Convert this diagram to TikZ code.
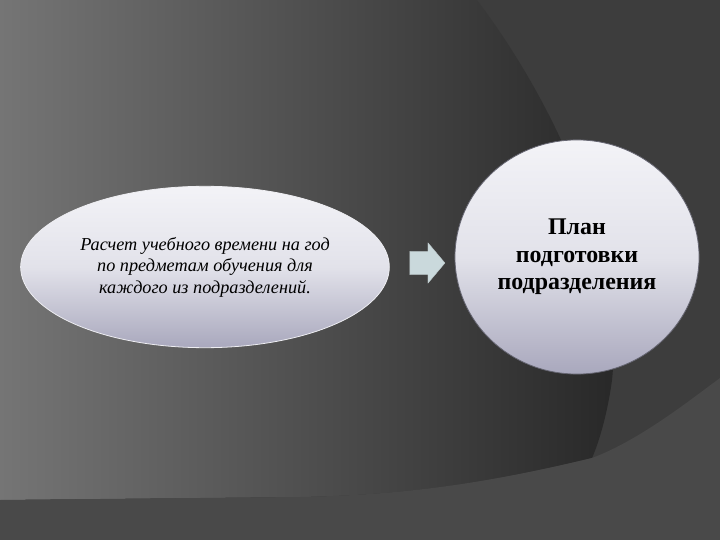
\documentclass[tikz,border=0pt]{standalone}
\usepackage{fontspec}
\setmainfont{Liberation Serif}
\usetikzlibrary{shapes.arrows,shapes.geometric}

\definecolor{slate}{HTML}{3D3D3D}
\definecolor{fogleft}{HTML}{757575}
\definecolor{coal}{HTML}{272727}
\definecolor{bandgray}{HTML}{494949}
\definecolor{bubtop}{HTML}{F3F3F7}
\definecolor{bubmid}{HTML}{E2E2EA}
\definecolor{bubbot}{HTML}{A9A8BD}
\definecolor{arrowfill}{HTML}{CAD9DC}

\tikzset{
  bubble/.style={ellipse, draw=white!80!bubbot, line width=0.8pt,
    top color=bubtop, bottom color=bubbot, middle color=bubmid,
    inner sep=0pt, align=center},
  stepping/.style={single arrow, fill=arrowfill, draw=arrowfill!80!gray,
    single arrow head extend=8.5bp, minimum height=35bp,
    inner sep=0pt, single arrow tip angle=100}
}

\begin{document}
\begin{tikzpicture}[x=1bp, y=-1bp]

\useasboundingbox (0,0) rectangle (720,540);
\fill[slate] (0,0) rectangle (720,540);
\shade[left color=fogleft, right color=coal]
  (0,0) -- (477,0) .. controls (560,110) and (625,260) .. (612,380)
  .. controls (608,410) and (600,440) .. (592,458)
  .. controls (480,485) and (400,495) .. (300,497) -- (0,500) -- cycle;
\fill[bandgray]
  (0,500) -- (300,497) .. controls (400,495) and (480,485) .. (592,458)
  .. controls (640,440) and (690,400) .. (720,378) -- (720,540) -- (0,540) -- cycle;

% -------- bubbles -----------
\node[bubble, minimum width=370, minimum height=162,
  font=\itshape\fontsize{18.3}{21.5}\selectfont] (calc) at (205,267)
  {Расчет учебного времени на год\\по предметам обучения для\\каждого из подразделений.};
\node[bubble, draw=bubbot!60!black, minimum width=245, minimum height=235,
  font=\bfseries\fontsize{24}{27.5}\selectfont] (plan) at (577,257)
  {План\\подготовки\\подразделения};

\node[stepping] (arr) at (422.5,263) {\rule{0pt}{23bp}};

\end{tikzpicture}
\end{document}
